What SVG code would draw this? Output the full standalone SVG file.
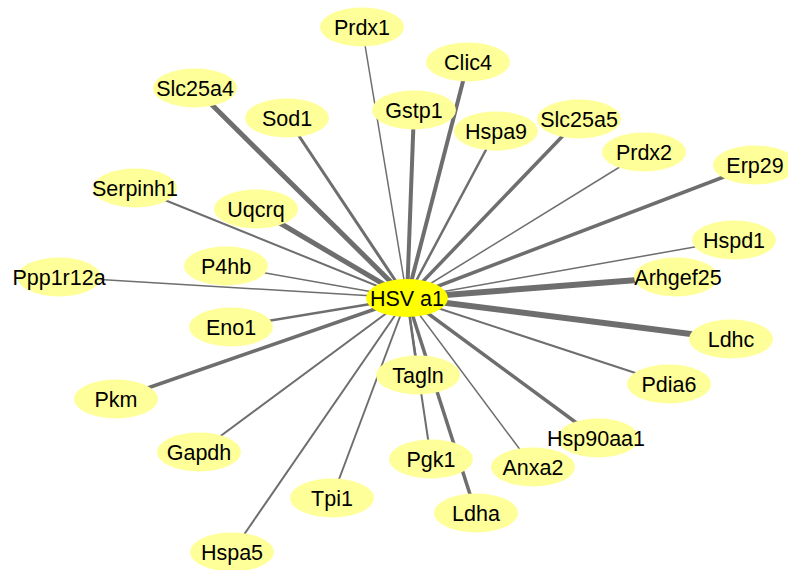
<svg xmlns="http://www.w3.org/2000/svg" width="788" height="570" viewBox="0 0 788 570">
  <style>
    .edge { stroke: #6e6e6e; stroke-linecap: butt; fill: none; }
    .node ellipse { fill: #ffff99; }
    .hub ellipse { fill: #ffff00; }
    text { font-family: "Liberation Sans", Arial, sans-serif; font-size: 21.5px; fill: #000; text-anchor: middle; }
  </style>
  <rect width="788" height="570" fill="#ffffff"/>

  <!-- connectors from the hub to each protein -->
  <g id="edges">
    <line class="edge" x1="407" y1="298" x2="362" y2="27" stroke-width="1.5"/>
    <line class="edge" x1="407" y1="298" x2="468" y2="62" stroke-width="4"/>
    <line class="edge" x1="407" y1="298" x2="414" y2="110" stroke-width="4"/>
    <line class="edge" x1="407" y1="298" x2="195" y2="88" stroke-width="5"/>
    <line class="edge" x1="407" y1="298" x2="287" y2="118" stroke-width="3"/>
    <line class="edge" x1="407" y1="298" x2="496" y2="131" stroke-width="2.5"/>
    <line class="edge" x1="407" y1="298" x2="579" y2="119" stroke-width="3.5"/>
    <line class="edge" x1="407" y1="298" x2="644" y2="152" stroke-width="1.5"/>
    <line class="edge" x1="407" y1="298" x2="755" y2="165" stroke-width="3.5"/>
    <line class="edge" x1="407" y1="298" x2="135" y2="188" stroke-width="2"/>
    <line class="edge" x1="407" y1="298" x2="256" y2="209" stroke-width="5"/>
    <line class="edge" x1="407" y1="298" x2="734" y2="240" stroke-width="1.5"/>
    <line class="edge" x1="407" y1="298" x2="676" y2="277" stroke-width="6"/>
    <line class="edge" x1="407" y1="298" x2="226" y2="266" stroke-width="1.5"/>
    <line class="edge" x1="407" y1="298" x2="59" y2="277" stroke-width="1.5"/>
    <line class="edge" x1="407" y1="298" x2="231" y2="327" stroke-width="2.5"/>
    <line class="edge" x1="407" y1="298" x2="730" y2="339" stroke-width="6"/>
    <line class="edge" x1="407" y1="298" x2="116" y2="399" stroke-width="3.5"/>
    <line class="edge" x1="407" y1="298" x2="669" y2="384" stroke-width="2"/>
    <line class="edge" x1="407" y1="298" x2="418" y2="375" stroke-width="2.5"/>
    <line class="edge" x1="407" y1="298" x2="597" y2="438" stroke-width="3.5"/>
    <line class="edge" x1="407" y1="298" x2="199" y2="452" stroke-width="2"/>
    <line class="edge" x1="407" y1="298" x2="533" y2="467" stroke-width="1.5"/>
    <line class="edge" x1="407" y1="298" x2="431" y2="459" stroke-width="2"/>
    <line class="edge" x1="407" y1="298" x2="476" y2="513" stroke-width="3.5"/>
    <line class="edge" x1="407" y1="298" x2="332" y2="498" stroke-width="2"/>
    <line class="edge" x1="407" y1="298" x2="232" y2="552" stroke-width="2"/>
  </g>

  <!-- protein nodes -->
  <g id="Prdx1" class="node"><ellipse cx="362" cy="27" rx="42" ry="19.5"/><text x="362" y="35">Prdx1</text></g>
  <g id="Clic4" class="node"><ellipse cx="468" cy="62" rx="42" ry="19.5"/><text x="468" y="70">Clic4</text></g>
  <g id="Slc25a4" class="node"><ellipse cx="195" cy="88" rx="42" ry="19.5"/><text x="195" y="96">Slc25a4</text></g>
  <g id="Gstp1" class="node"><ellipse cx="414" cy="110" rx="42" ry="19.5"/><text x="414" y="118">Gstp1</text></g>
  <g id="Sod1" class="node"><ellipse cx="287" cy="118" rx="42" ry="19.5"/><text x="287" y="126">Sod1</text></g>
  <g id="Slc25a5" class="node"><ellipse cx="579" cy="119" rx="42" ry="19.5"/><text x="579" y="127">Slc25a5</text></g>
  <g id="Hspa9" class="node"><ellipse cx="496" cy="131" rx="42" ry="19.5"/><text x="496" y="139">Hspa9</text></g>
  <g id="Prdx2" class="node"><ellipse cx="644" cy="152" rx="42" ry="19.5"/><text x="644" y="160">Prdx2</text></g>
  <g id="Erp29" class="node"><ellipse cx="755" cy="165" rx="42" ry="19.5"/><text x="755" y="173">Erp29</text></g>
  <g id="Serpinh1" class="node"><ellipse cx="135" cy="188" rx="42" ry="19.5"/><text x="135" y="196">Serpinh1</text></g>
  <g id="Uqcrq" class="node"><ellipse cx="256" cy="209" rx="42" ry="19.5"/><text x="256" y="217">Uqcrq</text></g>
  <g id="Hspd1" class="node"><ellipse cx="734" cy="240" rx="42" ry="19.5"/><text x="734" y="248">Hspd1</text></g>
  <g id="P4hb" class="node"><ellipse cx="226" cy="266" rx="42" ry="19.5"/><text x="226" y="274">P4hb</text></g>
  <g id="Ppp1r12a" class="node"><ellipse cx="59" cy="277" rx="42" ry="19.5"/><text x="59" y="285">Ppp1r12a</text></g>
  <g id="Arhgef25" class="node"><ellipse cx="676" cy="277" rx="42" ry="19.5"/><text x="678" y="285">Arhgef25</text></g>
  <g id="Eno1" class="node"><ellipse cx="231" cy="327" rx="42" ry="19.5"/><text x="231" y="335">Eno1</text></g>
  <g id="Ldhc" class="node"><ellipse cx="731" cy="339" rx="42" ry="19.5"/><text x="731" y="347">Ldhc</text></g>
  <g id="Tagln" class="node"><ellipse cx="418" cy="375" rx="42" ry="19.5"/><text x="418" y="383">Tagln</text></g>
  <g id="Pdia6" class="node"><ellipse cx="669" cy="384" rx="42" ry="19.5"/><text x="669" y="392">Pdia6</text></g>
  <g id="Pkm" class="node"><ellipse cx="116" cy="399" rx="42" ry="19.5"/><text x="116" y="407">Pkm</text></g>
  <g id="Hsp90aa1" class="node"><ellipse cx="598" cy="438" rx="41" ry="19.5"/><text x="596" y="446">Hsp90aa1</text></g>
  <g id="Gapdh" class="node"><ellipse cx="199" cy="452" rx="42" ry="19.5"/><text x="199" y="460">Gapdh</text></g>
  <g id="Pgk1" class="node"><ellipse cx="431" cy="459" rx="42" ry="19.5"/><text x="431" y="467">Pgk1</text></g>
  <g id="Anxa2" class="node"><ellipse cx="533" cy="467" rx="42" ry="19.5"/><text x="533" y="475">Anxa2</text></g>
  <g id="Tpi1" class="node"><ellipse cx="332" cy="498" rx="42" ry="19.5"/><text x="332" y="506">Tpi1</text></g>
  <g id="Ldha" class="node"><ellipse cx="476" cy="513" rx="42" ry="19.5"/><text x="476" y="521">Ldha</text></g>
  <g id="Hspa5" class="node"><ellipse cx="232" cy="552" rx="42" ry="19.5"/><text x="232" y="560">Hspa5</text></g>

  <!-- hub node -->
  <g id="HSVa1" class="hub"><ellipse cx="407" cy="298" rx="41" ry="19"/><text x="407" y="306">HSV a1</text></g>
</svg>
